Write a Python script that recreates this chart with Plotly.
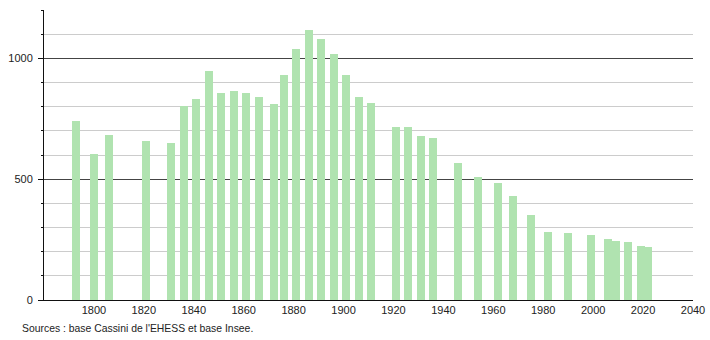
import plotly.graph_objects as go

years = [1793, 1800, 1806, 1821, 1831, 1836, 1841, 1846, 1851, 1856, 1861, 1866,
         1872, 1876, 1881, 1886, 1891, 1896, 1901, 1906, 1911, 1921, 1926, 1931,
         1936, 1946, 1954, 1962, 1968, 1975, 1982, 1990, 1999, 2006, 2009, 2014,
         2019, 2022]
population = [742, 605, 684, 659, 651, 804, 833, 946, 858, 863, 858, 841,
              812, 932, 1040, 1119, 1080, 1019, 932, 841, 815, 717, 717, 677,
              671, 566, 507, 486, 432, 352, 283, 279, 269, 253, 246, 242,
              224, 220]
x_ticks = [1800, 1820, 1840, 1860, 1880, 1900, 1920, 1940, 1960, 1980, 2000, 2020, 2040]
y_ticks = [0, 500, 1000]
source_text = "Sources : base Cassini de l'EHESS et base Insee."

fig = go.Figure()
fig.add_trace(go.Bar(
    x=years, y=population, width=3.2,
    marker=dict(color="#b0e3b0", line=dict(width=0)),
    hoverinfo="x+y",
))

fig.update_layout(
    width=710, height=340,
    margin=dict(l=44, r=17, t=10, b=40, autoexpand=False),
    paper_bgcolor="white", plot_bgcolor="white",
    font=dict(family="Liberation Sans, Arial, sans-serif", size=11, color="#222"),
    showlegend=False,
    bargap=0,
    xaxis=dict(
        range=[1780, 2040], tickmode="array", tickvals=x_ticks,
        showgrid=False, zeroline=False, showline=True, linecolor="#111",
        linewidth=1, ticks="", tickfont=dict(size=11, color="#222"),
        automargin=False,
    ),
    yaxis=dict(
        range=[0, 1200], tickmode="array", tickvals=y_ticks,
        showgrid=True, gridcolor="#444", gridwidth=1,
        zeroline=False, showline=True, linecolor="#111", linewidth=1,
        ticks="outside", ticklen=5, tickcolor="#111",
        ticklabelstandoff=3, automargin=False,
        tickfont=dict(size=11, color="#222"),
        minor=dict(dtick=100, showgrid=True, gridcolor="#cccccc",
                   gridwidth=1, ticks="outside", ticklen=2, tickcolor="#111"),
    ),
    annotations=[dict(
        text=source_text, xref="paper", yref="paper",
        x=-0.037, y=-0.097, xanchor="left", yanchor="middle",
        showarrow=False, font=dict(size=10.4, color="#222"),
    )],
)

fig.write_html("out.html")
